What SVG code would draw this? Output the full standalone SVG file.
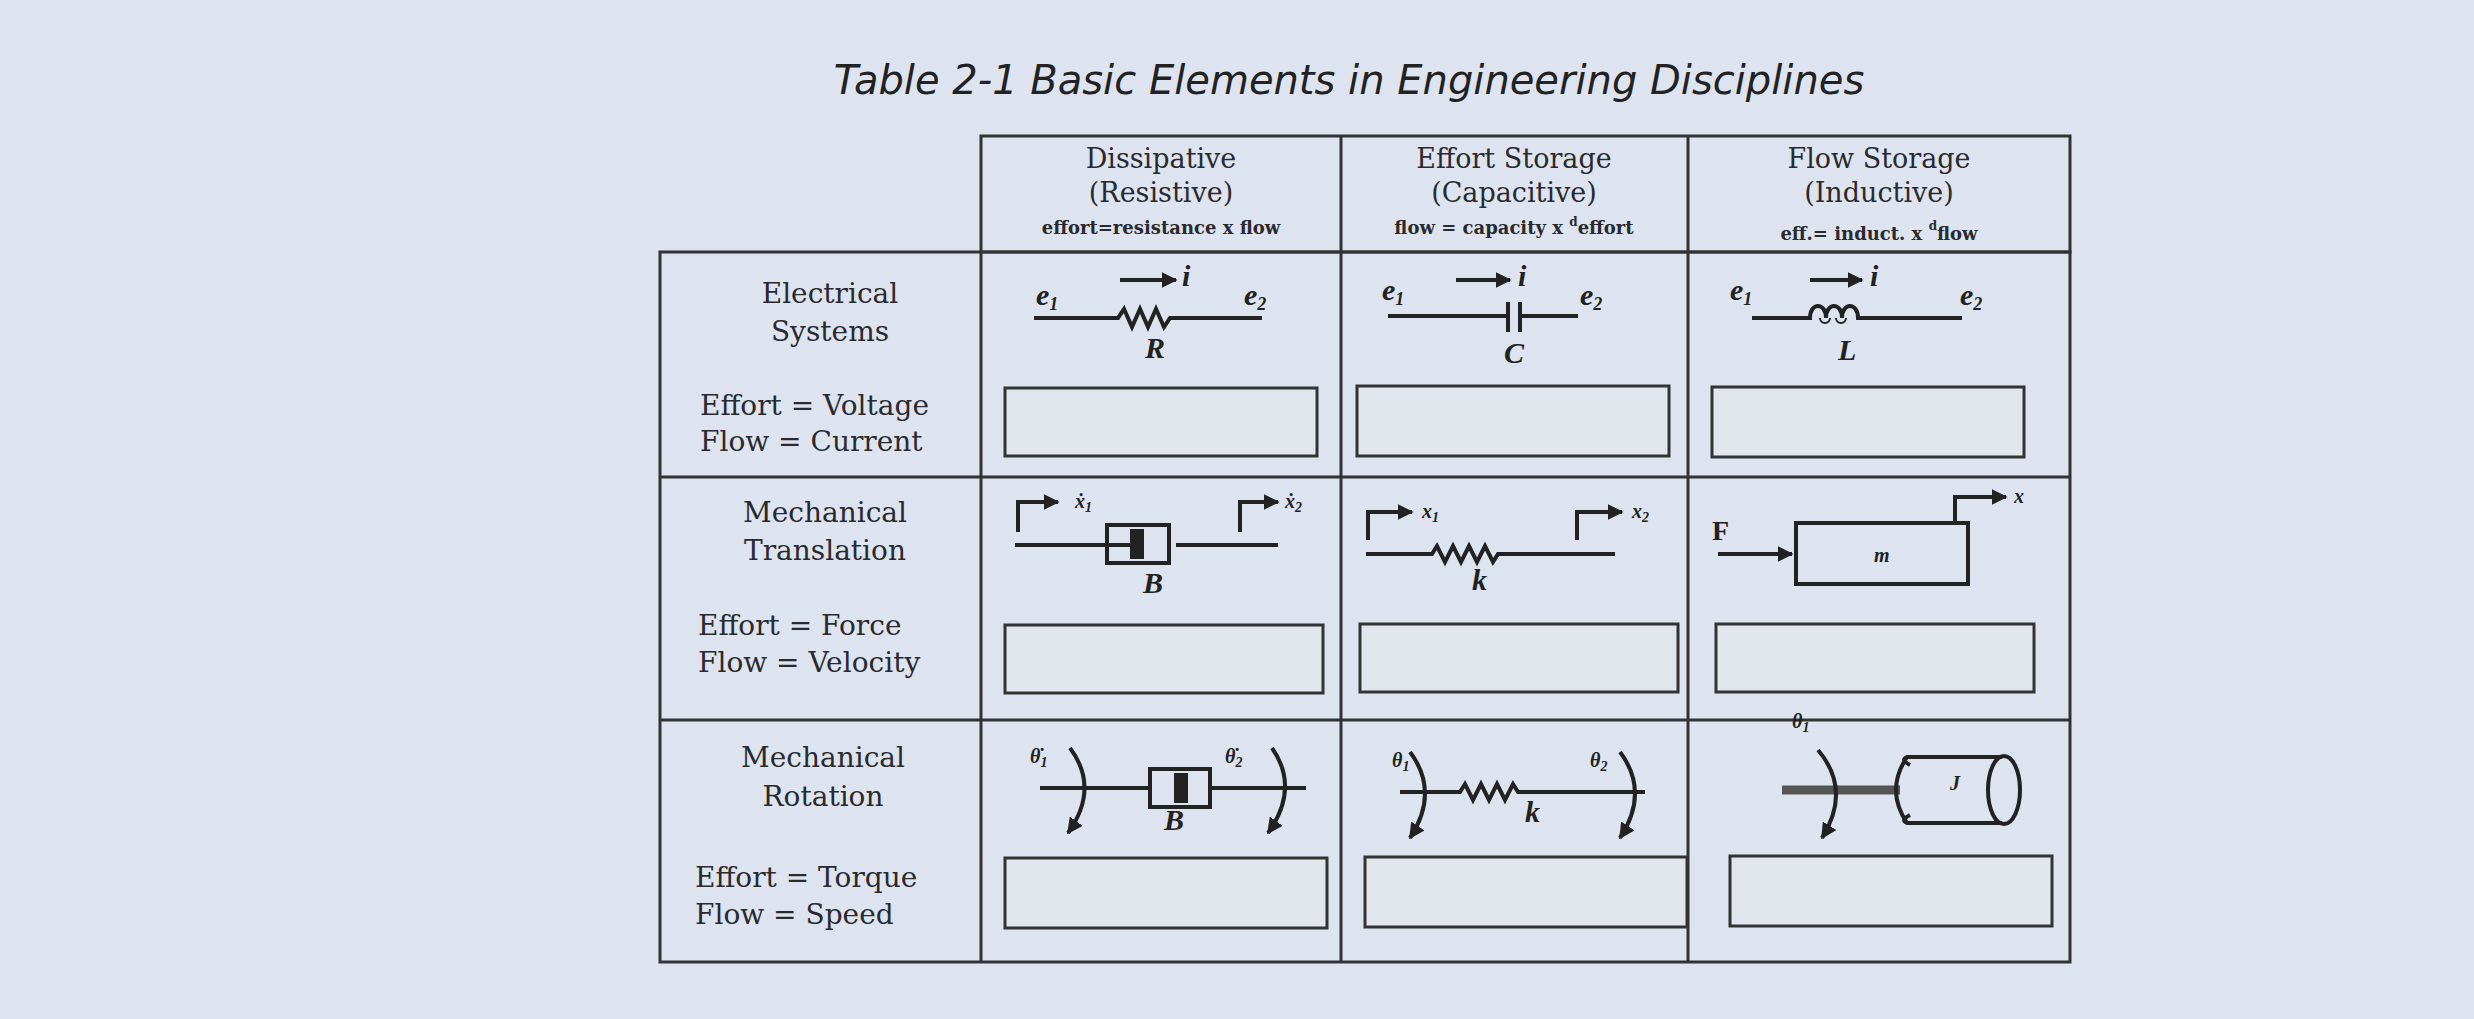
<svg xmlns="http://www.w3.org/2000/svg" width="2474" height="1019" viewBox="0 0 2474 1019">
<style>
.t{font-family:"DejaVu Serif","Liberation Serif",serif;fill:#2a2a2e}
.h{font-size:27px;text-anchor:middle}
.f{font-size:18px;text-anchor:middle;font-weight:bold}
.l{font-size:28px}
.v{font-family:"Liberation Serif",serif;font-style:italic;font-weight:bold;fill:#222;font-size:30px}
.s{font-family:"Liberation Serif",serif;font-style:italic;font-weight:bold;fill:#222;font-size:20px}
.g{stroke:#333;stroke-width:3;fill:none}
.w{stroke:#222;stroke-width:4;fill:none}
.b{fill:#e1e5ec;stroke:#333;stroke-width:3}
</style>
<defs>
<marker id="a" viewBox="0 0 10 10" refX="9" refY="5" markerWidth="4" markerHeight="4" orient="auto"><path d="M0,0L10,5L0,10z" fill="#222"/></marker>
</defs>
<rect width="2474" height="1019" fill="#dde4ef"/>
<text x="1349" y="94" text-anchor="middle" font-family="DejaVu Sans,sans-serif" font-style="italic" font-size="40" fill="#222">Table 2-1 Basic Elements in Engineering Disciplines</text>

<g id="grid">
<rect x="981" y="136" width="1089" height="116" class="g"/>
<rect x="660" y="252" width="1410" height="710" class="g"/>
<line x1="981" y1="252" x2="981" y2="962" class="g"/>
<line x1="1341" y1="136" x2="1341" y2="962" class="g"/>
<line x1="1688" y1="136" x2="1688" y2="962" class="g"/>
<line x1="660" y1="477" x2="2070" y2="477" class="g"/>
<line x1="660" y1="720" x2="2070" y2="720" class="g"/>
</g>

<g id="headers">
<text class="t h" x="1161" y="168">Dissipative</text>
<text class="t h" x="1161" y="202">(Resistive)</text>
<text class="t f" x="1161" y="234">effort=resistance x flow</text>
<text class="t h" x="1514" y="168">Effort Storage</text>
<text class="t h" x="1514" y="202">(Capacitive)</text>
<text class="t f" x="1514" y="234">flow = capacity x <tspan font-size="12" dy="-8">d</tspan><tspan dy="8">effort</tspan></text>
<text class="t h" x="1879" y="168">Flow Storage</text>
<text class="t h" x="1879" y="202">(Inductive)</text>
<text class="t f" x="1879" y="240">eff.= induct. x <tspan font-size="12" dy="-10">d</tspan><tspan dy="10">flow</tspan></text>
</g>

<g id="rowlabels">
<text class="t l" x="830" y="303" text-anchor="middle">Electrical</text>
<text class="t l" x="830" y="341" text-anchor="middle">Systems</text>
<text class="t l" x="700" y="415">Effort = Voltage</text>
<text class="t l" x="700" y="451">Flow = Current</text>
<text class="t l" x="825" y="522" text-anchor="middle">Mechanical</text>
<text class="t l" x="825" y="560" text-anchor="middle">Translation</text>
<text class="t l" x="698" y="635">Effort = Force</text>
<text class="t l" x="698" y="672">Flow = Velocity</text>
<text class="t l" x="823" y="767" text-anchor="middle">Mechanical</text>
<text class="t l" x="823" y="806" text-anchor="middle">Rotation</text>
<text class="t l" x="695" y="887">Effort = Torque</text>
<text class="t l" x="695" y="924">Flow = Speed</text>
</g>

<g id="answerboxes">
<rect class="b" x="1005" y="388" width="312" height="68"/>
<rect class="b" x="1357" y="386" width="312" height="70"/>
<rect class="b" x="1712" y="387" width="312" height="70"/>
<rect class="b" x="1005" y="625" width="318" height="68"/>
<rect class="b" x="1360" y="624" width="318" height="68"/>
<rect class="b" x="1716" y="624" width="318" height="68"/>
<rect class="b" x="1005" y="858" width="322" height="70"/>
<rect class="b" x="1365" y="857" width="322" height="70"/>
<rect class="b" x="1730" y="856" width="322" height="70"/>
</g>

<g id="resistor">
<path class="w" d="M1034,318H1118l6,-9l8,18l8,-18l8,18l8,-18l8,18l6,-9H1262"/>
<line class="w" x1="1120" y1="280" x2="1176" y2="280" marker-end="url(#a)"/>
<text class="v" x="1182" y="286" font-size="24">i</text>
<text class="v" x="1036" y="305">e<tspan font-size="18" dy="5">1</tspan></text>
<text class="v" x="1244" y="305">e<tspan font-size="18" dy="5">2</tspan></text>
<text class="v" x="1145" y="358" font-size="24">R</text>
</g>
<g id="capacitor">
<path class="w" d="M1388,316H1508M1520,316H1578M1508,302V332M1520,302V332"/>
<line class="w" x1="1456" y1="280" x2="1510" y2="280" marker-end="url(#a)"/>
<text class="v" x="1518" y="286" font-size="24">i</text>
<text class="v" x="1382" y="300">e<tspan font-size="18" dy="5">1</tspan></text>
<text class="v" x="1580" y="305">e<tspan font-size="18" dy="5">2</tspan></text>
<text class="v" x="1504" y="363" font-size="24">C</text>
</g>
<g id="inductor">
<path class="w" d="M1752,318H1810c0,-16 16,-16 16,0c0,-16 16,-16 16,0c0,-16 16,-16 16,0H1962"/>
<path stroke="#222" stroke-width="2" fill="none" d="M1820,318a5,5 0 1,0 10,0M1836,318a5,5 0 1,0 10,0"/>
<line class="w" x1="1810" y1="280" x2="1862" y2="280" marker-end="url(#a)"/>
<text class="v" x="1870" y="286" font-size="24">i</text>
<text class="v" x="1730" y="300">e<tspan font-size="18" dy="5">1</tspan></text>
<text class="v" x="1960" y="305">e<tspan font-size="18" dy="5">2</tspan></text>
<text class="v" x="1838" y="360" font-size="24">L</text>
</g>

<g id="damper-t">
<path class="w" d="M1015,545H1107M1176,545H1278"/>
<rect x="1107" y="525" width="62" height="38" class="w"/>
<rect x="1130" y="529" width="14" height="30" fill="#222"/>
<line class="w" x1="1095" y1="545" x2="1130" y2="545"/>
<path class="w" d="M1018,532V502H1058" marker-end="url(#a)"/>
<path class="w" d="M1240,532V502H1278" marker-end="url(#a)"/>
<text class="s" x="1075" y="508">ẋ<tspan font-size="14" dy="4">1</tspan></text>
<text class="s" x="1285" y="508">ẋ<tspan font-size="14" dy="4">2</tspan></text>
<text class="v" x="1143" y="593" font-size="24">B</text>
</g>
<g id="spring-t">
<path class="w" d="M1366,554H1432l5,-8l8,16l8,-16l8,16l8,-16l8,16l8,-16l8,16l5,-8H1615"/>
<path class="w" d="M1368,540V512H1412" marker-end="url(#a)"/>
<path class="w" d="M1577,540V512H1622" marker-end="url(#a)"/>
<text class="s" x="1422" y="518">x<tspan font-size="14" dy="4">1</tspan></text>
<text class="s" x="1632" y="518">x<tspan font-size="14" dy="4">2</tspan></text>
<text class="v" x="1472" y="590" font-size="24">k</text>
</g>
<g id="mass-t">
<rect x="1796" y="523" width="172" height="61" class="w"/>
<text class="s" x="1874" y="562">m</text>
<line class="w" x1="1718" y1="554" x2="1792" y2="554" marker-end="url(#a)"/>
<text x="1712" y="540" font-family="Liberation Serif,serif" font-weight="bold" font-size="28" fill="#222">F</text>
<path class="w" d="M1955,523V497H2006" marker-end="url(#a)"/>
<text class="s" x="2014" y="503">x</text>
</g>

<g id="damper-r">
<path class="w" d="M1040,788H1150M1208,788H1306"/>
<rect x="1150" y="769" width="60" height="38" class="w"/>
<rect x="1174" y="773" width="14" height="30" fill="#222"/>
<path class="w" d="M1070,748Q1100,788 1068,833" marker-end="url(#a)"/>
<path class="w" d="M1272,748Q1300,788 1268,833" marker-end="url(#a)"/>
<text class="s" x="1030" y="763">θ̇<tspan font-size="14" dy="4">1</tspan></text>
<text class="s" x="1225" y="763">θ̇<tspan font-size="14" dy="4">2</tspan></text>
<text class="v" x="1164" y="830" font-size="24">B</text>
</g>
<g id="spring-r">
<path class="w" d="M1400,792H1460l5,-8l8,16l8,-16l8,16l8,-16l8,16l8,-16l5,8H1645"/>
<path class="w" d="M1410,752Q1440,792 1410,838" marker-end="url(#a)"/>
<path class="w" d="M1620,752Q1650,792 1620,838" marker-end="url(#a)"/>
<text class="s" x="1392" y="767">θ<tspan font-size="14" dy="4">1</tspan></text>
<text class="s" x="1590" y="767">θ<tspan font-size="14" dy="4">2</tspan></text>
<text class="v" x="1525" y="822" font-size="24">k</text>
</g>
<g id="inertia-r">
<line x1="1782" y1="790" x2="1900" y2="790" stroke="#555" stroke-width="9"/>
<path class="w" d="M1910,765Q1900,760 1907,757H2002M1910,815Q1900,820 1907,823H2002M1907,757Q1885,790 1907,823"/>
<ellipse cx="2004" cy="790" rx="16" ry="34" class="w"/>
<path class="w" d="M1818,750Q1852,790 1822,838" marker-end="url(#a)"/>
<text class="s" x="1792" y="728">θ<tspan font-size="14" dy="4">1</tspan></text>
<text class="s" x="1950" y="790" font-size="16">J</text>
</g>
</svg>
